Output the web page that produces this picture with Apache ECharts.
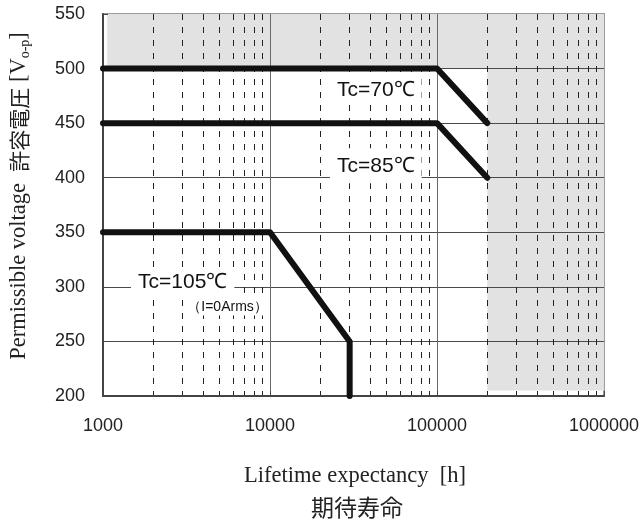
<!DOCTYPE html>
<html>
<head>
<meta charset="utf-8">
<script src="https://cdn.jsdelivr.net/npm/echarts@6/dist/echarts.min.js"></script>
<style>
  html, body { margin: 0; padding: 0; background: #fff; }
  #chart { width: 642px; height: 526px; }
</style>
</head>
<body>
<div id="chart"></div>
<script>
// Axis ranges and tick labels
const xTickValues = [1000, 10000, 100000, 1000000];
const xTickLabels = ['1000', '10000', '100000', '1000000'];
const yMin = 200, yMax = 550, yStep = 50;

// Minor (2..9 per decade) lifetime gridlines, drawn dashed
const xMinorValues = [
  2000, 3000, 4000, 5000, 6000, 7000, 8000, 9000,
  20000, 30000, 40000, 50000, 60000, 70000, 80000, 90000,
  200000, 300000, 400000, 500000, 600000, 700000, 800000, 900000
];

// Derating curves: [lifetime h, permissible voltage V]
const curve70 = [[1000, 500], [100000, 500], [200000, 450]];
const curve85 = [[1000, 450], [100000, 450], [200000, 400]];
const curve105 = [[1000, 350], [10000, 350], [30000, 250], [30000, 200]];

// Out-of-range (hatched) zones: [[x0, y0], [x1, y1]]
const zoneTop = [[1060, 500], [1000000, 550]];
const zoneRight = [[200000, 205], [1000000, 550]];

// Curve annotations: [x, y, text, size]
const annotations = [
  [43000, 480, 'Tc=70℃', 'big'],
  [43000, 411, 'Tc=85℃', 'tall'],
  [3000, 304, 'Tc=105℃', 'big'],
  [5570, 281, '（I=0Arms）', 'small']
];

const sans = "'Liberation Sans', Arial, Helvetica, sans-serif";
const serif = "'Liberation Serif', 'Times New Roman', serif";
const cjk = "'Noto Sans CJK JP', 'Noto Sans CJK SC', sans-serif";

// label box styles per annotation kind (copied per item)
const labelStyle = (kind) => {
  if (kind === 'small') {
    return { show: true, fontFamily: sans, fontSize: 14, color: '#111', opacity: 1, backgroundColor: '#fff', padding: [1, 0, 1, 0] };
  }
  return {
    show: true, fontFamily: sans, fontSize: 21, color: '#111', opacity: 1, backgroundColor: '#fff',
    padding: kind === 'tall' ? [3, 7, 11, 7] : [3, 7, 4, 7]
  };
};

const chart = echarts.init(document.getElementById('chart'), null, { renderer: 'canvas' });

const curveSeries = (data) => ({
  type: 'line',
  data: data,
  z: 3,
  symbol: 'none',
  silent: true,
  animation: false,
  lineStyle: { color: '#111', width: 6, cap: 'round', join: 'round' }
});

const option = {
  animation: false,
  backgroundColor: '#fff',
  grid: {
    left: 103, right: 38, top: 14, bottom: 130,
    show: true, borderColor: '#9a9a9a', borderWidth: 2, backgroundColor: 'transparent'
  },
  xAxis: {
    type: 'log',
    logBase: 10,
    min: xTickValues[0],
    max: xTickValues[xTickValues.length - 1],
    z: 2,
    axisLine: { onZero: false, lineStyle: { color: '#444', width: 2 } },
    axisTick: { inside: true, length: 5, lineStyle: { color: '#444' } },
    axisLabel: {
      margin: 21, color: '#222', fontSize: 18, fontFamily: sans,
      formatter: (v) => {
        const i = xTickValues.findIndex(t => Math.abs(t - v) / t < 1e-6);
        return i >= 0 ? xTickLabels[i] : '';
      }
    },
    splitLine: { show: true, showMinLine: false, showMaxLine: false, lineStyle: { color: '#6a6a6a', width: 1 } }
  },
  yAxis: {
    type: 'value',
    min: yMin, max: yMax, interval: yStep,
    z: 2,
    axisLine: { show: true, onZero: false, lineStyle: { color: '#444', width: 2 } },
    axisTick: { show: true, inside: true, length: 5, lineStyle: { color: '#444' } },
    axisLabel: { margin: 18, color: '#222', fontSize: 18, fontFamily: sans },
    splitLine: { show: true, showMinLine: false, showMaxLine: false, lineStyle: { color: '#4a4a4a', width: 1 } }
  },
  graphic: [
    {
      type: 'text', x: 19, y: 196, rotation: Math.PI / 2,
      style: {
        text: '{a|Permissible voltage  }{j|許容電圧}{a| [V}{s|o-p}{a|]}',
        align: 'center', verticalAlign: 'middle', fill: '#222',
        rich: {
          a: { fontFamily: serif, fontSize: 22.5, lineHeight: 27, fill: '#222' },
          j: { fontFamily: cjk, fontSize: 21, lineHeight: 27, fill: '#222' },
          s: { fontFamily: serif, fontSize: 14, lineHeight: 16, verticalAlign: 'bottom', fill: '#222' }
        }
      }
    },
    {
      type: 'text', x: 355, y: 476,
      style: {
        text: 'Lifetime expectancy  [h]', fontFamily: serif, fontSize: 22.5,
        align: 'center', verticalAlign: 'middle', fill: '#222'
      }
    },
    {
      type: 'text', x: 357, y: 507,
      style: {
        text: '期待寿命', fontFamily: cjk, fontSize: 23,
        align: 'center', verticalAlign: 'middle', fill: '#222'
      }
    }
  ],
  series: [
    {
      // hatched out-of-range zones
      type: 'line', data: [], z: 1, silent: true,
      markArea: {
        silent: true, z: 1,
        itemStyle: { color: '#e2e2e2' },
        data: [
          [{ coord: zoneTop[0] }, { coord: zoneTop[1] }],
          [{ coord: zoneRight[0] }, { coord: zoneRight[1] }]
        ]
      }
    },
    {
      // dashed minor gridlines
      type: 'line', data: [], z: 2, silent: true,
      markLine: {
        silent: true, z: 2, symbol: ['none', 'none'],
        label: { show: false },
        lineStyle: { color: '#222', width: 1, type: [6, 7] },
        data: xMinorValues.map(x => [{ coord: [x, yMax] }, { coord: [x, yMin] }])
      }
    },
    curveSeries(curve70),
    curveSeries(curve85),
    curveSeries(curve105),
    {
      type: 'scatter',
      z: 4,
      silent: true,
      symbolSize: 1,
      itemStyle: { color: 'transparent' },
      emphasis: { disabled: true },
      data: annotations.map(a => ({
        value: [a[0], a[1]],
        name: a[2],
        label: labelStyle(a[3])
      })),
      label: {
        show: true,
        position: 'inside',
        formatter: (p) => p.name,
        color: '#111',
        opacity: 1
      }
    }
  ]
};

chart.setOption(option);
</script>
</body>
</html>
